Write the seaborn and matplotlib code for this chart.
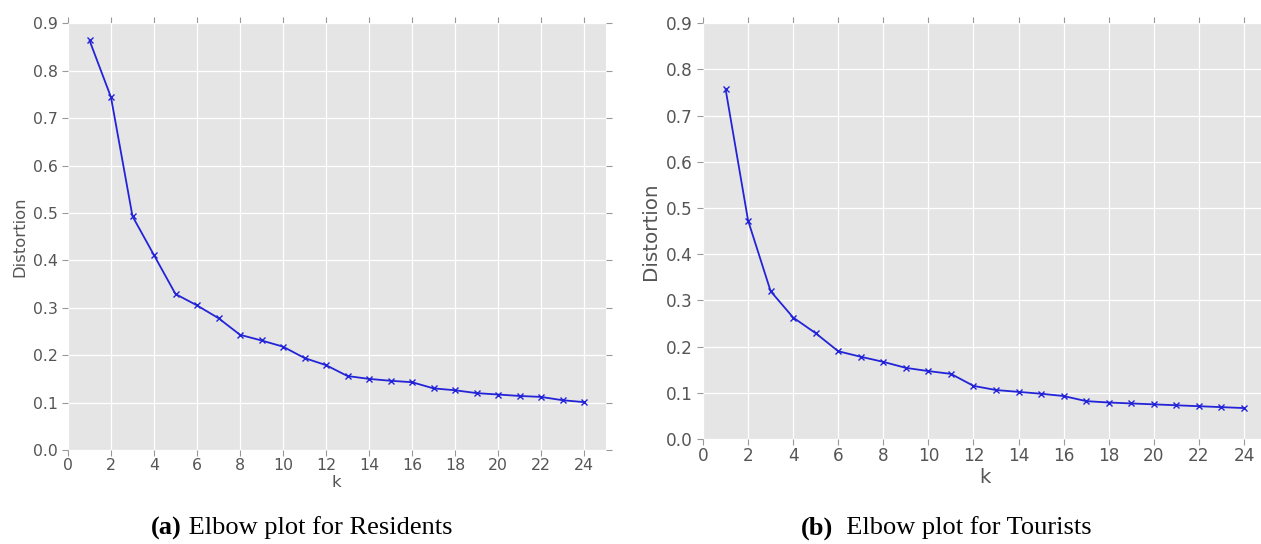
import numpy as np
import pandas as pd
import seaborn as sns
import matplotlib
matplotlib.use("Agg")
import matplotlib.pyplot as plt

k_values = list(range(1, 25))
residents = [0.864, 0.744, 0.493, 0.411, 0.329, 0.305, 0.278, 0.243, 0.231, 0.218,
             0.194, 0.179, 0.156, 0.150, 0.146, 0.143, 0.130, 0.126, 0.120, 0.117,
             0.114, 0.112, 0.105, 0.101]
tourists = [0.758, 0.473, 0.320, 0.263, 0.229, 0.190, 0.178, 0.167, 0.154, 0.147,
            0.141, 0.115, 0.106, 0.102, 0.098, 0.093, 0.082, 0.079, 0.077, 0.075,
            0.073, 0.071, 0.069, 0.067]
x_ticks = list(range(0, 25, 2))
y_ticks = [0.0, 0.1, 0.2, 0.3, 0.4, 0.5, 0.6, 0.7, 0.8, 0.9]
captions = [("(a)", " Elbow plot for Residents"), ("(b)", "  Elbow plot for Tourists")]

sns.set_theme(style="darkgrid", rc={
    "axes.facecolor": "#E5E5E5",
    "grid.color": "white",
    "grid.linewidth": 0.9,
    "axes.edgecolor": "#E5E5E5",
    "text.color": "#555555",
    "axes.labelcolor": "#555555",
    "xtick.color": "#555555",
    "ytick.color": "#555555",
})
plt.rcParams["font.family"] = ["DejaVu Sans"]

fig = plt.figure(figsize=(12.61, 5.44), dpi=100)
ax1 = fig.add_axes([68/1261, 1-450/544, 537.5/1261, 426.7/544])
ax2 = fig.add_axes([703/1261, 1-439/544, 563.5/1261, 415.7/544])

df_r = pd.DataFrame({"k": k_values, "Distortion": residents})
df_t = pd.DataFrame({"k": k_values, "Distortion": tourists})

line_color = "#2323d8"
for ax, df, fs, lfs, xlp in [(ax1, df_r, 11.3, 11.8, 1), (ax2, df_t, 12.2, 14.3, 2)]:
    sns.lineplot(data=df, x="k", y="Distortion", ax=ax, color=line_color,
                 marker="x", markersize=5, markeredgewidth=1.0,
                 markeredgecolor=line_color, linewidth=1.3)
    ax.set_xlim(0, 25)
    ax.set_ylim(0, 0.9)
    ax.set_xticks(x_ticks)
    ax.set_yticks(y_ticks)
    ax.set_yticklabels([f"{v:.1f}" for v in y_ticks])
    ax.tick_params(axis="both", which="both", direction="out", length=4, width=0.8,
                   color="#999999", labelsize=fs, top=True, right=True,
                   labeltop=False, labelright=False, bottom=True, left=True, pad=3.5)
    ax.tick_params(axis="x", pad=2)
    ax.set_xlabel("k", fontsize=lfs, labelpad=xlp)
    ax.set_ylabel("Distortion", fontsize=lfs, labelpad=4)
    for s in ax.spines.values():
        s.set_visible(False)

# captions
for (bold, rest), xc in zip(captions, [182/1261, 833/1261]):
    fig.text(xc, 1-528/544, bold, fontsize=19, fontweight="bold",
             family=["Liberation Serif"], color="black", ha="right", va="center")
    fig.text(xc, 1-528/544, rest, fontsize=19, family=["Liberation Serif"],
             color="black", ha="left", va="center")

fig.savefig("out.png", dpi=100)
